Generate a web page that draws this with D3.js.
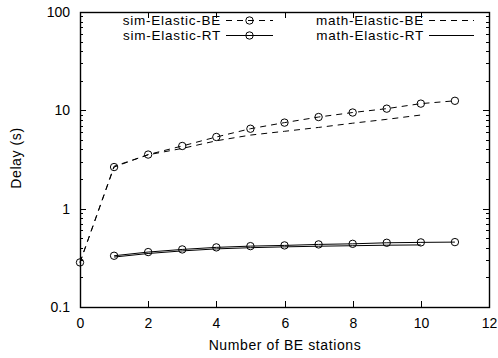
<!DOCTYPE html>
<html><head><meta charset="utf-8">
<script src="https://cdn.jsdelivr.net/npm/d3@7"></script>
<style>
body{margin:0;background:#fff;}
text{font-family:"Liberation Sans",Arial,Helvetica,sans-serif;font-size:14px;fill:#000;}
</style></head>
<body><svg id="c" width="498" height="358"></svg>
<script>
const simBEx = [0,1,2,3,4,5,6,7,8,9,10,11];
const simBE  = [0.284,2.65,3.55,4.34,5.36,6.5,7.5,8.55,9.5,10.4,11.7,12.5];
const mathBEx = [0,1,2,3,4,5,6,7,8,9,10];
const mathBE  = [0.284,2.7,3.53,4.1,4.9,5.6,6.12,6.7,7.4,8.1,8.96];
const simRTx = [1,2,3,4,5,6,7,8,9,10,11];
const simRT  = [0.332,0.362,0.385,0.404,0.416,0.423,0.433,0.439,0.45,0.454,0.457];
const mathRTx = [1,2,3,4,5,6,7,8,9,10];
const mathRT  = [0.322,0.35,0.372,0.39,0.401,0.409,0.415,0.42,0.425,0.428];
const xTicks = [0,2,4,6,8,10,12];
const yTicks = [0.1,1,10,100];
const yTickLabels = ["0.1","1","10","100"];
const legendLabels = ["sim-Elastic-BE","sim-Elastic-RT","math-Elastic-BE","math-Elastic-RT"];

const svg = d3.select("#c");
const L=80, R=489, T=12, B=307;
const x = d3.scaleLinear().domain([0,12]).range([L,R]);
const y = d3.scaleLog().domain([0.1,100]).range([B,T]);
const dash = "6,5";
const col = "#000";

// minor ticks
const minor = [];
for (let d=0.1; d<100; d*=10) for (let k=2;k<=9;k++) minor.push(+(d*k).toPrecision(3));
const g = svg.append("g");
minor.forEach(v=>{
  g.append("line").attr("x1",L).attr("x2",L+3).attr("y1",Math.round(y(v))+0.5).attr("y2",Math.round(y(v))+0.5).attr("stroke",col);
  g.append("line").attr("x1",R-3).attr("x2",R).attr("y1",Math.round(y(v))+0.5).attr("y2",Math.round(y(v))+0.5).attr("stroke",col);
});
yTicks.forEach((v,i)=>{
  const yy=Math.round(y(v))+0.5;
  g.append("line").attr("x1",L).attr("x2",L+6).attr("y1",yy).attr("y2",yy).attr("stroke",col);
  g.append("line").attr("x1",R-6).attr("x2",R).attr("y1",yy).attr("y2",yy).attr("stroke",col);
  g.append("text").attr("x",L-10).attr("y",yy).attr("dy","0.35em").attr("text-anchor","end").text(yTickLabels[i]);
});
xTicks.forEach(v=>{
  const xx=Math.round(x(v))+0.5;
  g.append("line").attr("x1",xx).attr("x2",xx).attr("y1",B).attr("y2",B-6).attr("stroke",col);
  g.append("line").attr("x1",xx).attr("x2",xx).attr("y1",T).attr("y2",T+6).attr("stroke",col);
  g.append("text").attr("x",xx).attr("y",B+16).attr("dy","0.35em").attr("text-anchor","middle").text(v);
});
g.append("rect").attr("x",L+0.5).attr("y",T+0.5).attr("width",R-L).attr("height",B-T)
  .attr("fill","none").attr("stroke",col).attr("stroke-width",1.4);

svg.append("text").attr("x",285).attr("y",345).attr("dy","0.35em").attr("text-anchor","middle")
  .style("letter-spacing","0.6px").text("Number of BE stations");
svg.append("text").attr("transform","translate(16,158) rotate(-90)").attr("dy","0.35em")
  .attr("text-anchor","middle").style("letter-spacing","0.6px").text("Delay (s)");

const line = d3.line().x(d=>x(d[0])).y(d=>y(d[1]));
function series(xs, ys, dashed, markers){
  const pts = xs.map((v,i)=>[v,ys[i]]);
  svg.append("path").datum(pts).attr("d",line).attr("fill","none").attr("stroke",col)
    .attr("stroke-width",1).attr("stroke-dasharray",dashed?dash:null);
  if(markers){
    svg.selectAll(null).data(pts).enter().append("circle")
      .attr("cx",d=>x(d[0])).attr("cy",d=>y(d[1])).attr("r",3.7)
      .attr("fill","none").attr("stroke",col).attr("stroke-width",1);
  }
}
series(simBEx, simBE, true, true);
series(simRTx, simRT, false, true);
series(mathBEx, mathBE, true, false);
series(mathRTx, mathRT, false, false);

// legend
const leg = [
  {lab:legendLabels[0], tx:221, y:20.5, x1:226, x2:273, dashed:true, m:true},
  {lab:legendLabels[1], tx:221, y:35.5, x1:226, x2:273, dashed:false, m:true},
  {lab:legendLabels[2], tx:424, y:20.5, x1:429, x2:474, dashed:true, m:false},
  {lab:legendLabels[3], tx:424, y:35.5, x1:429, x2:474, dashed:false, m:false}
];
leg.forEach(d=>{
  svg.append("text").attr("x",d.tx).attr("y",d.y).attr("dy","0.35em").attr("text-anchor","end")
    .style("font-size","13.5px").style("letter-spacing","0.75px").text(d.lab);
  svg.append("line").attr("x1",d.x1).attr("x2",d.x2).attr("y1",Math.floor(d.y)+0.5).attr("y2",Math.floor(d.y)+0.5)
    .attr("stroke",col).attr("stroke-dasharray",d.dashed?dash:null);
  if(d.m) svg.append("circle").attr("cx",(d.x1+d.x2)/2).attr("cy",Math.floor(d.y)+0.5).attr("r",3.7)
    .attr("fill","none").attr("stroke",col);
});
</script></body></html>
